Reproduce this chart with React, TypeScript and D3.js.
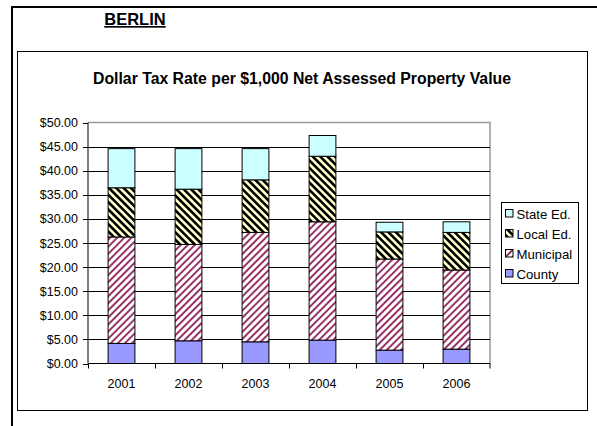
import * as d3 from "d3";

const years = ["2001", "2002", "2003", "2004", "2005", "2006"];
const county = [4.17, 4.71, 4.5, 4.85, 2.77, 2.98];
const municipal = [22.08, 20.0, 22.7, 24.55, 18.9, 16.42];
const localEd = [10.21, 11.46, 10.9, 13.6, 5.63, 7.8];
const stateEd = [8.12, 8.41, 6.48, 4.3, 2.0, 2.2];
const seriesNames = ["County", "Municipal", "Local Ed.", "State Ed."];
const yTicks = [0, 5, 10, 15, 20, 25, 30, 35, 40, 45, 50];

const fills: Record<string, string> = {
  County: "#9999FF",
  Municipal: "url(#muniPat)",
  "Local Ed.": "url(#localPat)",
  "State Ed.": "#CCFFFF",
};

const W = 597;
const H = 426;
const font = "Arial, 'Liberation Sans', sans-serif";

const App = () => {
  const plot = { left: 88, right: 490, top: 122.5, bottom: 363.5 };

  const x = d3.scaleBand().domain(years).range([plot.left, plot.right]).paddingInner(0.6).paddingOuter(0.3);
  const xOuter = d3.scaleBand().domain(years).range([plot.left, plot.right]);
  const y = d3.scaleLinear().domain([0, 50]).range([plot.bottom, plot.top]);

  const rows = years.map((yr, i) => ({
    year: yr,
    County: county[i],
    Municipal: municipal[i],
    "Local Ed.": localEd[i],
    "State Ed.": stateEd[i],
  }));
  const stacked = d3.stack<any>().keys(seriesNames)(rows);

  const legendOrder = ["State Ed.", "Local Ed.", "Municipal", "County"];

  return (
    <svg width={W} height={H} style={{ position: "absolute", left: 0, top: 0 }} fontFamily={font}>
      <defs>
        <pattern id="muniPat" patternUnits="userSpaceOnUse" width={5} height={5} patternTransform="rotate(45)">
          <rect width={5} height={5} fill="#ffffff" />
          <rect width={2} height={5} fill="#993366" />
        </pattern>
        <pattern id="localPat" patternUnits="userSpaceOnUse" width={5.2} height={5.2} patternTransform="rotate(-45)">
          <rect width={5.2} height={5.2} fill="#FFFFCC" />
          <rect width={2.6} height={5.2} fill="#000000" />
        </pattern>
      </defs>
      <rect width={W} height={H} fill="#fff" />

      {/* outer frame */}
      <line x1={12} x2={W} y1={7} y2={7} stroke="#000" strokeWidth={2} />
      <line x1={12} x2={12} y1={6} y2={H} stroke="#000" strokeWidth={2} />

      <text x={135} y={25} textAnchor="middle" fontSize={16.5} fontWeight="bold" textDecoration="underline">
        BERLIN
      </text>

      {/* chart area */}
      <rect x={17.5} y={51.5} width={570} height={359} fill="#fff" stroke="#000" strokeWidth={1} />
      <text x={302} y={84} textAnchor="middle" fontSize={15.8} fontWeight="bold">
        Dollar Tax Rate per $1,000 Net Assessed Property Value
      </text>

      {/* plot area border */}
      <path
        d={`M${plot.left},${plot.top}H${plot.right}V${plot.bottom}`}
        fill="none"
        stroke="#999"
        strokeWidth={1.5}
      />

      {/* gridlines */}
      {yTicks.slice(1, -1).map((t) => (
        <line key={t} x1={plot.left} x2={plot.right} y1={Math.round(y(t)) + 0.5} y2={Math.round(y(t)) + 0.5} stroke="#000" strokeWidth={1} />
      ))}

      {/* bars */}
      {stacked.map((s) => (
        <g key={s.key}>
          {s.map((d, i) => (
            <rect
              key={i}
              x={x(years[i])!}
              y={y(d[1])}
              width={x.bandwidth()}
              height={y(d[0]) - y(d[1])}
              fill={fills[s.key]}
              stroke="#000"
              strokeWidth={1}
            />
          ))}
        </g>
      ))}

      {/* y axis */}
      <line x1={plot.left} x2={plot.left} y1={plot.top} y2={plot.bottom} stroke="#000" strokeWidth={1} />
      {yTicks.map((t) => (
        <g key={t}>
          <line x1={plot.left - 5} x2={plot.left} y1={Math.round(y(t)) + 0.5} y2={Math.round(y(t)) + 0.5} stroke="#000" />
          <text x={plot.left - 10} y={y(t) + 4.5} textAnchor="end" fontSize={12.5}>
            {d3.format("$.2f")(t)}
          </text>
        </g>
      ))}

      {/* x axis */}
      <line x1={plot.left} x2={plot.right} y1={plot.bottom} y2={plot.bottom} stroke="#000" strokeWidth={1} />
      {years.map((yr, i) => (
        <g key={yr}>
          <line
            x1={Math.round(xOuter(yr)!) + 0.5}
            x2={Math.round(xOuter(yr)!) + 0.5}
            y1={plot.bottom}
            y2={plot.bottom + 5}
            stroke="#000"
          />
          {i === years.length - 1 && (
            <line x1={plot.right} x2={plot.right} y1={plot.bottom} y2={plot.bottom + 5} stroke="#000" />
          )}
          <text x={x(yr)! + x.bandwidth() / 2} y={388} textAnchor="middle" fontSize={12.5}>
            {yr}
          </text>
        </g>
      ))}

      {/* legend */}
      <rect x={501.5} y={202.5} width={77} height={81} fill="#fff" stroke="#000" strokeWidth={1} />
      {legendOrder.map((k, i) => (
        <g key={k} transform={`translate(505, ${209 + i * 20})`}>
          <rect x={0.5} y={0.5} width={7.5} height={7.5} fill={fills[k]} stroke="#000" strokeWidth={1} />
          <text x={11.5} y={9.5} fontSize={13.2}>
            {k}
          </text>
        </g>
      ))}
    </svg>
  );
};

export default App;
